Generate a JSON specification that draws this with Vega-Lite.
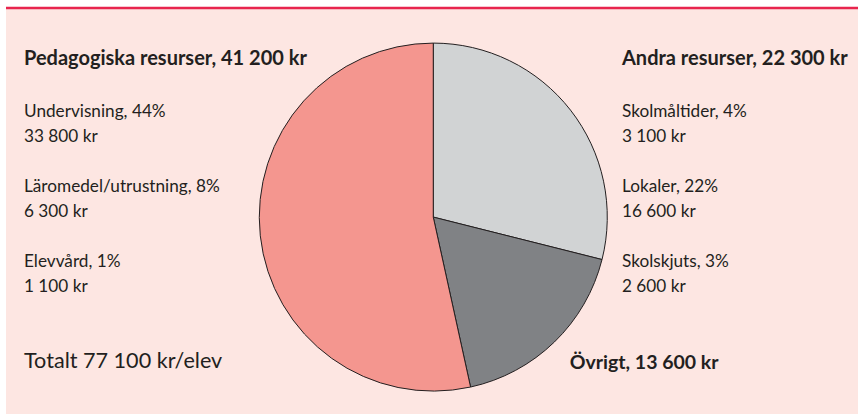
{
  "$schema": "https://vega.github.io/schema/vega-lite/v6.json",
  "width": 852,
  "height": 406,
  "autosize": {"type": "none"},
  "padding": {"left": 6, "top": 8, "right": 0, "bottom": 0},
  "background": "#ffffff",
  "config": {
    "view": {"fill": "#fde6e2", "stroke": null},
    "text": {"font": "Lato", "color": "#231f20"}
  },
  "datasets": {
    "slices": [
      {"grupp": "Andra resurser", "kr": 22300, "ordning": 1, "rubrik": "Andra resurser, 22 300 kr"},
      {"grupp": "Övrigt", "kr": 13600, "ordning": 2, "rubrik": "Övrigt, 13 600 kr"},
      {"grupp": "Pedagogiska resurser", "kr": 41200, "ordning": 3, "rubrik": "Pedagogiska resurser, 41 200 kr"}
    ],
    "labels": [
      {"sida": "left", "rad": 0, "typ": "rubrik", "text": "Pedagogiska resurser, 41 200 kr"},
      {"sida": "left", "rad": 2, "typ": "post", "text": "Undervisning, 44%"},
      {"sida": "left", "rad": 3, "typ": "post", "text": "33 800 kr"},
      {"sida": "left", "rad": 5, "typ": "post", "text": "Läromedel/utrustning, 8%"},
      {"sida": "left", "rad": 6, "typ": "post", "text": "6 300 kr"},
      {"sida": "left", "rad": 8, "typ": "post", "text": "Elevvård, 1%"},
      {"sida": "left", "rad": 9, "typ": "post", "text": "1 100 kr"},
      {"sida": "left", "rad": 12, "typ": "summa", "text": "Totalt 77 100 kr/elev"},
      {"sida": "right", "rad": 0, "typ": "rubrik", "text": "Andra resurser, 22 300 kr"},
      {"sida": "right", "rad": 2, "typ": "post", "text": "Skolmåltider, 4%"},
      {"sida": "right", "rad": 3, "typ": "post", "text": "3 100 kr"},
      {"sida": "right", "rad": 5, "typ": "post", "text": "Lokaler, 22%"},
      {"sida": "right", "rad": 6, "typ": "post", "text": "16 600 kr"},
      {"sida": "right", "rad": 8, "typ": "post", "text": "Skolskjuts, 3%"},
      {"sida": "right", "rad": 9, "typ": "post", "text": "2 600 kr"}
    ]
  },
  "resolve": {"scale": {"x": "independent"}},
  "layer": [
    {
      "data": {"name": "slices"},
      "mark": {"type": "arc", "radius": 174, "stroke": "#231f20", "strokeWidth": 1},
      "encoding": {
        "theta": {"field": "kr", "type": "quantitative", "stack": true},
        "order": {"field": "ordning", "type": "quantitative"},
        "color": {
          "field": "grupp", "type": "nominal", "legend": null,
          "scale": {"domain": ["Andra resurser", "Övrigt", "Pedagogiska resurser"], "range": ["#d1d3d4", "#808285", "#f4968f"]}
        },
        "x": {"datum": 50.15, "type": "quantitative", "scale": {"domain": [0, 100]}, "axis": null},
        "y": {"datum": 6, "type": "quantitative", "scale": {"domain": [-2.33, 13.845], "reverse": true, "zero": false, "nice": false}, "axis": null}
      }
    },
    {
      "data": {"name": "slices"},
      "mark": {"type": "text", "radius": 196, "align": "left", "baseline": "middle", "fontWeight": "bold", "fontSize": 19.5, "dx": 0, "dy": 5},
      "encoding": {
        "theta": {"field": "kr", "type": "quantitative", "stack": true},
        "order": {"field": "ordning", "type": "quantitative"},
        "detail": {"field": "grupp", "type": "nominal"},
        "text": {"condition": {"test": "datum.grupp === 'Övrigt'", "field": "rubrik"}, "value": ""},
        "x": {"datum": 50.15, "type": "quantitative", "scale": {"domain": [0, 100]}, "axis": null},
        "y": {"datum": 6, "type": "quantitative", "axis": null}
      }
    },
    {
      "data": {"values": [{"linje": "topp"}]},
      "mark": {"type": "rule", "color": "#e8254e", "strokeWidth": 2.5},
      "encoding": {
        "y": {"datum": -2.33, "type": "quantitative", "axis": null}
      }
    },
    {
      "data": {"name": "labels"},
      "transform": [{"filter": "datum.typ === 'rubrik'"}],
      "mark": {"type": "text", "align": "left", "baseline": "alphabetic", "fontWeight": "bold", "fontSize": 20, "dy": -1.5},
      "encoding": {
        "x": {"field": "sida", "type": "nominal", "scale": {"type": "point", "domain": ["left", "right"], "range": [18, 616], "padding": 0}, "axis": null},
        "y": {"field": "rad", "type": "quantitative", "axis": null},
        "text": {"field": "text"}
      }
    },
    {
      "data": {"name": "labels"},
      "transform": [{"filter": "datum.typ === 'post'"}],
      "mark": {"type": "text", "align": "left", "baseline": "alphabetic", "fontSize": 17.2},
      "encoding": {
        "x": {"field": "sida", "type": "nominal", "scale": {"type": "point", "domain": ["left", "right"], "range": [18, 616], "padding": 0}, "axis": null},
        "y": {"field": "rad", "type": "quantitative", "axis": null},
        "text": {"field": "text"}
      }
    },
    {
      "data": {"name": "labels"},
      "transform": [{"filter": "datum.typ === 'summa'"}],
      "mark": {"type": "text", "align": "left", "baseline": "alphabetic", "fontSize": 21.6},
      "encoding": {
        "x": {"field": "sida", "type": "nominal", "scale": {"type": "point", "domain": ["left", "right"], "range": [18, 616], "padding": 0}, "axis": null},
        "y": {"field": "rad", "type": "quantitative", "axis": null},
        "text": {"field": "text"}
      }
    }
  ]
}
